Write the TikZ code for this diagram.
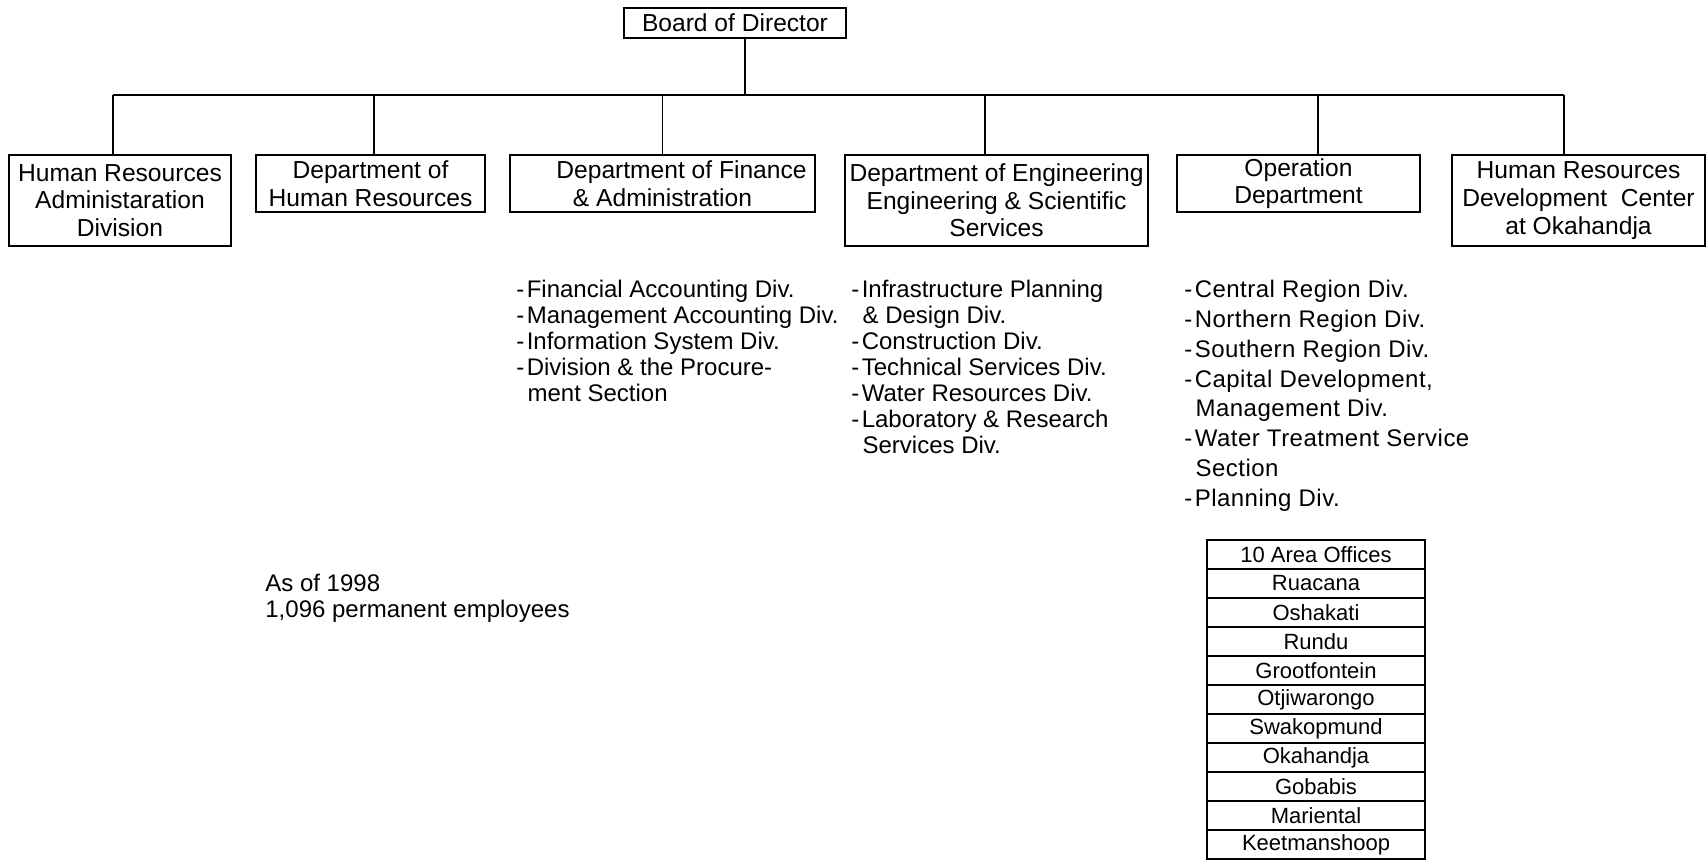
\documentclass[tikz,border=0pt]{standalone}
\usepackage{fontspec}
\setmainfont{Liberation Sans}
\usetikzlibrary{positioning}

% list entries: leading dash, and the indent of a wrapped line
\newcommand{\divitem}{-\kern1.2pt}
\newcommand{\contline}{\hphantom{-}\kern1.6pt}

\begin{document}
\begin{tikzpicture}[x=0.5pt, y=-0.5pt,
    unit/.style={rectangle, draw, line width=1.4pt, inner sep=0pt, align=center, font=\fontsize{12.3}{13.8}\selectfont},
    twoline/.style={minimum height=28.5pt},
    threeline/.style={minimum height=45.5pt},
    divlist/.style={anchor=north west, inner sep=0pt, align=left, font=\fontsize{12}{13}\selectfont},
    office/.style={rectangle, draw, line width=0.6pt, inner sep=0pt, outer sep=0pt, minimum width=109pt, minimum height=14.5pt, font=\fontsize{11}{13}\selectfont},
    link/.style={line width=0.6pt}]

    \useasboundingbox (0,0) rectangle (1708,861);

    % Board and departments
    \node[unit, minimum width=111pt, minimum height=15pt] (board) at (735,23) {Board of Director};
    \node[unit, threeline, minimum width=111pt] (hradmin) at (120,200.5) {Human Resources\\ Administaration\\ Division};
    \node[unit, twoline, minimum width=114.5pt] (hrdept) at (370.5,183.5) {Department of\\ Human Resources};
    \node[unit, twoline, minimum width=152.5pt] (finance) at (662.5,183.5) {\hspace*{19pt}Department of Finance\\ \& Administration};
    \node[unit, threeline, minimum width=151.5pt] (engineering) at (996.5,200.5) {Department of Engineering\\ Engineering \& Scientific\\ Services};
    \node[unit, twoline, minimum width=121.5pt] (operation) at (1298.5,183.5) {Operation\\ Department};
    \node[unit, threeline, minimum width=126.5pt] (hrdc) at (1578.5,200.5) {Human Resources\\ Development\ \ Center\\ at Okahandja};

    % Connect board to departments
    \coordinate (bus) at (745,95);
    \draw[link] (board.south -| bus) -- (bus);
    \draw[link] ([xshift=-3.5pt]hradmin.north |- bus) -- ([xshift=-7.25pt]hrdc.north |- bus);
    \foreach \n/\dx in {hradmin/-3.5, hrdept/1.75, finance/0, engineering/-5.75, operation/9.75, hrdc/-7.25}
        \draw[link] ([xshift=\dx pt]\n.north) -- ([xshift=\dx pt]\n.north |- bus);

    % Divisions under each department
    \node[divlist] (finlist) at (516,280) {\divitem Financial Accounting Div.\\ \divitem Management Accounting Div.\\ \divitem Information System Div.\\ \divitem Division \& the Procure-\\ \contline ment Section};
    \node[divlist] (englist) at (851,280) {\divitem Infrastructure Planning\\ \contline\& Design Div.\\ \divitem Construction Div.\\ \divitem Technical Services Div.\\ \divitem Water Resources Div.\\ \divitem Laboratory \& Research\\ \contline Services Div.};
    \node[divlist, font=\fontsize{12}{14.9}\selectfont\addfontfeature{LetterSpace=2}] (oplist) at (1184,280) {\divitem Central Region Div.\\ \divitem Northern Region Div.\\ \divitem Southern Region Div.\\ \divitem Capital Development,\\ \contline Management Div.\\ \divitem Water Treatment Service\\ \contline Section\\ \divitem Planning Div.};

    % Staff note
    \node[divlist] (note) at (265,574) {As of 1998\\ 1,096 permanent employees};

    % Area offices table
    \node[office] (area0) at (1316,554.5) {10 Area Offices};
    \foreach \place [count=\i] in {Ruacana, Oshakati, Rundu, Grootfontein, Otjiwarongo, Swakopmund, Okahandja, Gobabis, Mariental, Keetmanshoop} {
        \pgfmathtruncatemacro\j{\i-1}
        \node[office, below=0pt of area\j] (area\i) {\place};
    }
    \draw[line width=1.4pt] (area0.north west) rectangle (area10.south east);
    \draw[line width=1.4pt] (area0.south west) -- (area0.south east);
\end{tikzpicture}
\end{document}
